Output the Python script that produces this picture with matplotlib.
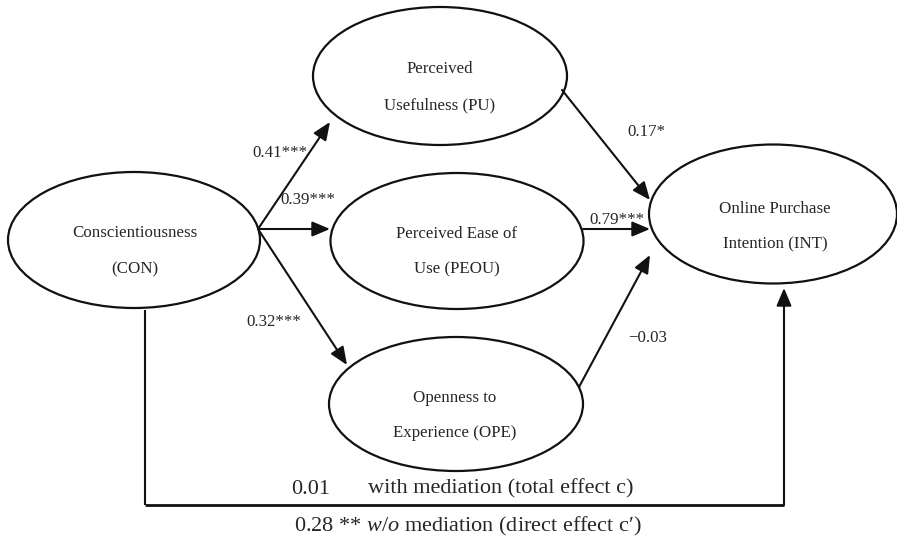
import matplotlib
matplotlib.use("Agg")
import matplotlib.pyplot as plt
from matplotlib.patches import Ellipse, FancyArrowPatch

plt.rcParams['font.family'] = ['Liberation Serif', 'DejaVu Serif']
plt.rcParams['mathtext.fontset'] = 'custom'
plt.rcParams['mathtext.rm'] = 'Liberation Serif'
plt.rcParams['mathtext.it'] = 'Liberation Serif:italic'

# ---- data (labels and path coefficients) ----
node_ids = ["CON", "PU", "PEOU", "OPE", "INT"]
node_line1 = ["Conscientiousness", "Perceived", "Perceived Ease of", "Openness to", "Online Purchase"]
node_line2 = ["(CON)", "Usefulness (PU)", "Use (PEOU)", "Experience (OPE)", "Intention (INT)"]
path_from = ["CON", "CON", "CON", "PU", "PEOU", "OPE"]
path_to = ["PU", "PEOU", "OPE", "INT", "INT", "INT"]
path_coef = ["0.41***", "0.39***", "0.32***", "0.17*", "0.79***", "\u22120.03"]
total_effect = "0.01"
total_effect_text = "with mediation (total effect c)"
direct_effect = "0.28 **"
direct_effect_text = " mediation (direct effect c\u2032)"

# ---- layout (pixel space, y downward) ----
ell = {  # cx, cy, w, h
    "CON": (134, 240, 252, 136),
    "PU": (440, 76, 254, 138),
    "PEOU": (457, 241, 253, 136),
    "OPE": (456, 404, 254, 134),
    "INT": (773, 214, 248, 139),
}
text_pos = {  # x, y line1, y line2
    "CON": (135, 233, 269),
    "PU": (440, 69, 105),
    "PEOU": (457, 234, 269),
    "OPE": (455, 398, 433),
    "INT": (775, 209, 244),
}
arrow_pts = {
    ("CON", "PU"): ((258, 229), (330, 122)),
    ("CON", "PEOU"): ((258, 229), (330, 229)),
    ("CON", "OPE"): ((258, 229), (347, 365)),
    ("PU", "INT"): ((562, 90), (650, 200)),
    ("PEOU", "INT"): ((583, 229), (650, 229)),
    ("OPE", "INT"): ((579, 387), (650, 255)),
}
label_pos = {
    ("CON", "PU"): (280, 153),
    ("CON", "PEOU"): (308, 200),
    ("CON", "OPE"): (274, 322),
    ("PU", "INT"): (646, 132),
    ("PEOU", "INT"): (617, 220),
    ("OPE", "INT"): (648, 338),
}

LINE = '#111111'
TXT = '#262626'
FS = 12.2

fig = plt.figure(figsize=(8.97, 5.40), dpi=100)
ax = fig.add_axes([0, 0, 1, 1])
ax.set_xlim(0, 897)
ax.set_ylim(540, 0)
ax.axis('off')

for nid, l1, l2 in zip(node_ids, node_line1, node_line2):
    cx, cy, w, h = ell[nid]
    ax.add_patch(Ellipse((cx, cy), w, h, fill=False, ec=LINE, lw=1.6))
    tx, y1, y2 = text_pos[nid]
    ax.text(tx, y1, l1, ha='center', va='center', fontsize=FS, color=TXT)
    ax.text(tx, y2, l2, ha='center', va='center', fontsize=FS, color=TXT)

astyle = '-|>,head_length=0.9,head_width=0.38'
for a, b, coef in zip(path_from, path_to, path_coef):
    p0, p1 = arrow_pts[(a, b)]
    ax.add_patch(FancyArrowPatch(p0, p1, arrowstyle=astyle, mutation_scale=12,
                                 lw=1.5, color=LINE, shrinkA=0, shrinkB=0))
    lx, ly = label_pos[(a, b)]
    ax.text(lx, ly, coef, ha='center', va='center', fontsize=FS, color=TXT)

# direct path CON -> INT
ax.plot([145, 145], [310, 505], color=LINE, lw=1.5, solid_capstyle='butt')
ax.plot([144.5, 784], [505, 505], color=LINE, lw=2.0, solid_capstyle='butt')
ax.add_patch(FancyArrowPatch((784, 505), (784, 288), arrowstyle=astyle, mutation_scale=12,
                             lw=1.5, color=LINE, shrinkA=0, shrinkB=0))

BFS = 16
ax.text(311, 489, total_effect, ha='center', va='center', fontsize=BFS, color=TXT)
ax.text(501, 489, total_effect_text, ha='center', va='center', fontsize=BFS, color=TXT)
ax.text(468, 526, direct_effect + r" $\mathit{w/o}$" + direct_effect_text,
        ha='center', va='center', fontsize=BFS, color=TXT)

fig.savefig("out.png", dpi=100)
